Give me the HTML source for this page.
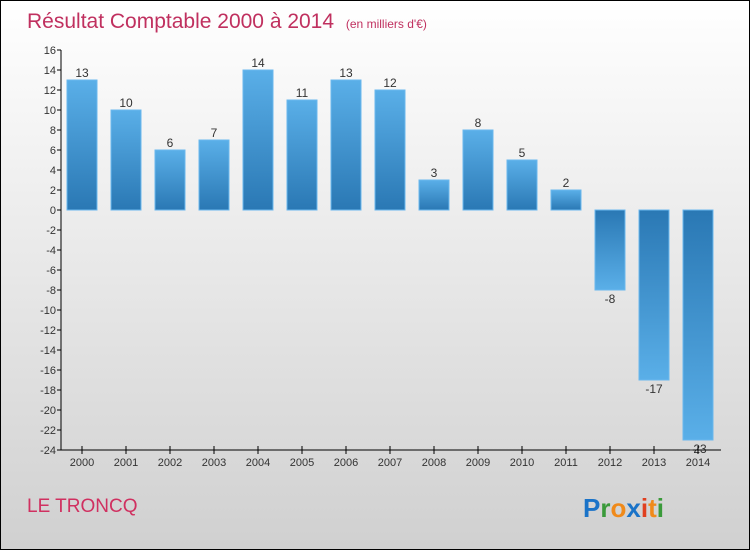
<!DOCTYPE html>
<html><head><meta charset="utf-8"><style>
body{margin:0}
#wrap{width:748px;height:548px;border:1px solid #000;background:linear-gradient(#ffffff,#d0d0d0);position:relative;font-family:"Liberation Sans",sans-serif;overflow:hidden}
</style></head><body>
<div id="wrap">
<svg id="svg" width="748" height="548" xmlns="http://www.w3.org/2000/svg">
<defs>
<linearGradient id="gp" x1="0" y1="0" x2="0" y2="1"><stop offset="0" stop-color="#5aafe8"/><stop offset="1" stop-color="#2a78b4"/></linearGradient>
<linearGradient id="gn" x1="0" y1="0" x2="0" y2="1"><stop offset="0" stop-color="#2a78b4"/><stop offset="1" stop-color="#5aafe8"/></linearGradient>
</defs>
<text x="26" y="27" font-size="21" fill="#c0305f">Résultat Comptable 2000 à 2014 <tspan font-size="12" dx="6">(en milliers d'€)</tspan></text>
<text x="26" y="511" font-size="19" fill="#d03060">LE TRONCQ</text>
<g font-size="26" font-weight="bold" font-family="'Liberation Sans',sans-serif">
<text x="582" y="516"><tspan fill="#1a73c8">P</tspan><tspan fill="#3a9a3a">r</tspan><tspan fill="#f08a1a">o</tspan><tspan fill="#1a73c8">x</tspan><tspan fill="#e04020">i</tspan><tspan fill="#f08a1a">t</tspan><tspan fill="#3a9a3a">i</tspan></text>
</g>
<g id="plot"></g>
</svg>
</div>
<script>
const categories=["2000","2001","2002","2003","2004","2005","2006","2007","2008","2009","2010","2011","2012","2013","2014"];
const values=[13,10,6,7,14,11,13,12,3,8,5,2,-8,-17,-23];
const yTicks=[16,14,12,10,8,6,4,2,0,-2,-4,-6,-8,-10,-12,-14,-16,-18,-20,-22,-24];
const NS="http://www.w3.org/2000/svg";
const g=document.getElementById('plot');
const y=v=>209-(v*10);
const x=i=>81+i*44;
function mk(t,a){const e=document.createElementNS(NS,t);for(const k in a)e.setAttribute(k,a[k]);g.appendChild(e);return e;}
let ax=mk('line',{x1:60,y1:y(16),x2:60,y2:y(-24),stroke:'#000'});


let bx=mk('line',{x1:60,y1:y(-24),x2:720,y2:y(-24),stroke:'#000'});


yTicks.forEach(v=>{
 const l=mk('line',{x1:56,y1:y(v),x2:60,y2:y(v),stroke:'#000'});
 
 
 const t=mk('text',{x:55,y:y(v)+4,'text-anchor':'end','font-size':11,fill:'#333'});
 t.textContent=v;
 
 
});
categories.forEach((c,i)=>{
 const v=values[i];
 const top=v>=0?y(v):y(0), h=Math.abs(v)*10;
 const r=mk('rect',{x:x(i)-15,y:top,width:30,height:h,fill:v>=0?'url(#gp)':'url(#gn)',stroke:'#6ab8ee','stroke-width':1});
 
 
 const lab=mk('text',{x:x(i),y:v>=0?y(v)-3:y(v)+13,'text-anchor':'middle','font-size':12,fill:'#333'});
 lab.textContent=v;
 
 
 const tk=mk('line',{x1:x(i),y1:y(-24)-4,x2:x(i),y2:y(-24)+4,stroke:'#000'});
 
 
 const xl=mk('text',{x:x(i),y:y(-24)+16,'text-anchor':'middle','font-size':11,fill:'#333'});
 xl.textContent=c;
 
 
});
</script>
</body></html>
